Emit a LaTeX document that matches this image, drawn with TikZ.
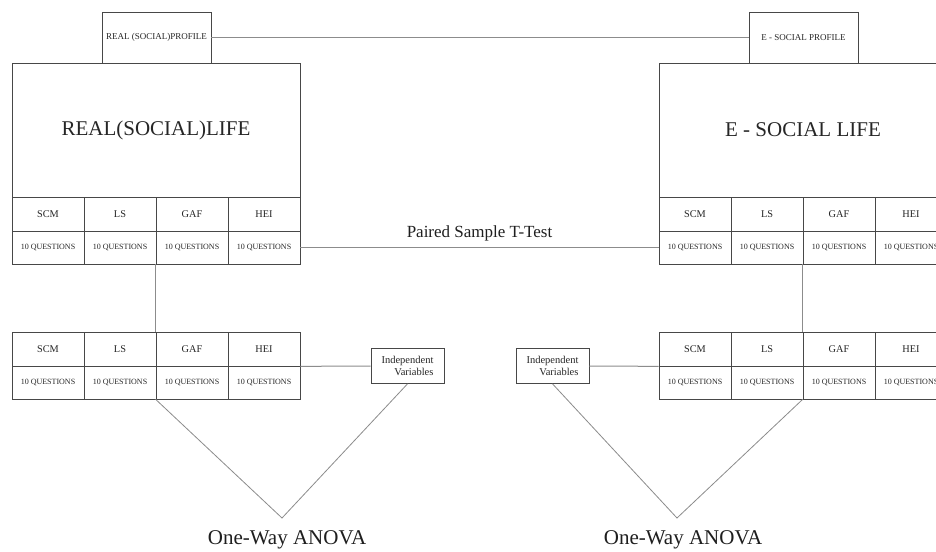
\documentclass[tikz,border=0pt]{standalone}
\usepackage{fontspec}
\setmainfont{Liberation Serif}
\begin{document}
\begin{tikzpicture}[x=1pt,y=-1pt,
  box/.style={draw=black!72, line width=0.7pt, inner sep=0pt, text=black!85},
  hcell/.style={box, minimum width=72pt, minimum height=34pt, font=\fontsize{10.3}{12}\selectfont},
  qcell/.style={box, minimum width=72pt, minimum height=33pt, font=\fontsize{8}{9}\selectfont},
  prof/.style={box, minimum width=109pt, minimum height=51pt, font=\fontsize{9}{10}\selectfont},
  mainbox/.style={box, minimum width=288pt, minimum height=134pt, font=\fontsize{21}{24}\selectfont},
  indep/.style={box, minimum width=73pt, minimum height=35pt, align=right, font=\fontsize{10.5}{12.5}\selectfont},
  conn/.style={draw=black!45, line width=1pt},
  label/.style={text=black!88, inner sep=0pt}
]
\useasboundingbox (0,0) rectangle (936,551);
\clip (0,0) rectangle (936,551);
\fill[white] (0,0) rectangle (936,551);

% ---------- top left ----------
\node[prof] (lprof) at (156.5,37.5) {REAL (SOCIAL)PROFILE};
\node[mainbox] (lmain) at (156,130) {REAL(SOCIAL)LIFE};
\node[hcell] (lh1) at (48,214) {SCM};
\node[hcell] (lh2) at (120,214) {LS};
\node[hcell] (lh3) at (192,214) {GAF};
\node[hcell] (lh4) at (264,214) {HEI};
\node[qcell] (lq1) at (48,247.5) {10 QUESTIONS};
\node[qcell] (lq2) at (120,247.5) {10 QUESTIONS};
\node[qcell] (lq3) at (192,247.5) {10 QUESTIONS};
\node[qcell] (lq4) at (264,247.5) {10 QUESTIONS};

% ---------- top right ----------
\node[prof] (rprof) at (803.5,37.5) {E - SOCIAL PROFILE};
\node[mainbox] (rmain) at (803,130) {E - SOCIAL LIFE};
\node[hcell] (rh1) at (695,214) {SCM};
\node[hcell] (rh2) at (767,214) {LS};
\node[hcell] (rh3) at (839,214) {GAF};
\node[hcell] (rh4) at (911,214) {HEI};
\node[qcell] (rq1) at (695,247.5) {10 QUESTIONS};
\node[qcell] (rq2) at (767,247.5) {10 QUESTIONS};
\node[qcell] (rq3) at (839,247.5) {10 QUESTIONS};
\node[qcell] (rq4) at (911,247.5) {10 QUESTIONS};

% ---------- bottom left ----------
\node[hcell] (blh1) at (48,349) {SCM};
\node[hcell] (blh2) at (120,349) {LS};
\node[hcell] (blh3) at (192,349) {GAF};
\node[hcell] (blh4) at (264,349) {HEI};
\node[qcell] (blq1) at (48,382.5) {10 QUESTIONS};
\node[qcell] (blq2) at (120,382.5) {10 QUESTIONS};
\node[qcell] (blq3) at (192,382.5) {10 QUESTIONS};
\node[qcell] (blq4) at (264,382.5) {10 QUESTIONS};
\node[indep] (lind) at (407.5,366) {Independent\\Variables};
\coordinate (lapex) at (282,518);
\node[label, font=\fontsize{21}{24}\selectfont] (lanova) at (287,540) {One-Way ANOVA};

% ---------- bottom right ----------
\node[hcell] (brh1) at (695,349) {SCM};
\node[hcell] (brh2) at (767,349) {LS};
\node[hcell] (brh3) at (839,349) {GAF};
\node[hcell] (brh4) at (911,349) {HEI};
\node[qcell] (brq1) at (695,382.5) {10 QUESTIONS};
\node[qcell] (brq2) at (767,382.5) {10 QUESTIONS};
\node[qcell] (brq3) at (839,382.5) {10 QUESTIONS};
\node[qcell] (brq4) at (911,382.5) {10 QUESTIONS};
\node[indep] (rind) at (552.5,366) {Independent\\Variables};
\coordinate (rapex) at (677,518);
\node[label, font=\fontsize{21}{24}\selectfont] (ranova) at (683,540) {One-Way ANOVA};

% ---------- connectors ----------
\draw[conn] (lprof.east) -- (rprof.west);
\draw[conn] (lq4.east) -- node[label, above=6pt, font=\fontsize{17}{19}\selectfont] (paired) {Paired Sample T-Test} (rq1.west);
\draw[conn] (lq3.south west) -- (blh3.north west);
\draw[conn] (rq3.south west) -- (brh3.north west);
\draw[conn] (blh4.south east) -- (lind.west);
\draw[conn] (rind.east) -- (brh1.south west);
\draw[conn, line width=0.8pt] (blq3.south west) -- (lapex) -- (lind.south);
\draw[conn, line width=0.8pt] (rind.south) -- (rapex) -- (brq3.south west);
\end{tikzpicture}
\end{document}
